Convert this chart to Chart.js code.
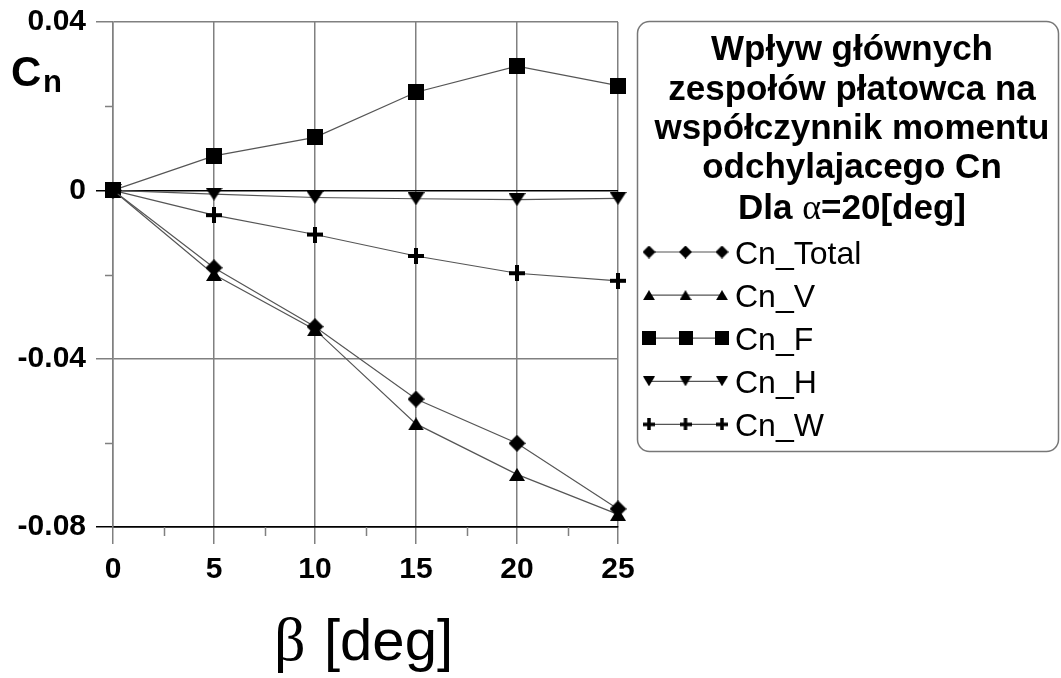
<!DOCTYPE html>
<html lang="pl">
<head>
<meta charset="UTF-8">
<title>Cn(β)</title>
<script src="https://cdn.jsdelivr.net/npm/chart.js"></script>
<style>
  html, body { margin: 0; padding: 0; background: #fff; }
  canvas { display: block; }
</style>
</head>
<body>
<canvas id="cnChart" width="1061" height="678"></canvas>
<script>
// 横すべり角 β [deg]
const beta = [0, 5, 10, 15, 20, 25];
// 各部分の偏揺れモーメント係数 Cn
const cnTotal = [0, -0.0184, -0.0324, -0.0496, -0.0601, -0.0757];
const cnV = [0, -0.0200, -0.0331, -0.0555, -0.0675, -0.0770];
const cnF = [0, 0.0082, 0.0126, 0.0233, 0.0295, 0.0249];
const cnH = [0, -0.0009, -0.0017, -0.0020, -0.0022, -0.0019];
const cnW = [0, -0.0059, -0.0105, -0.0156, -0.0197, -0.0215];

const seriesLabels = ["Cn_Total", "Cn_V", "Cn_F", "Cn_H", "Cn_W"];

// 目盛り
const xTicks = [0, 5, 10, 15, 20, 25];
const xMinor = [2.5, 7.5, 12.5, 17.5, 22.5];
const yTicks = [-0.08, -0.04, 0, 0.04];
const yMinor = [-0.06, -0.02, 0.02];

// 凡例タイトル
const legendTitle = ["Wpływ głównych", "zespołów płatowca na", "współczynnik momentu", "odchylajacego Cn"];

const SANS = "'Liberation Sans', Arial, sans-serif";
const SERIF = "'Liberation Serif', 'Times New Roman', serif";
const gridGray = "#808080";
const lineGray = "#555";

// マーカー画像を作る
function makeMarker(shape, w, h, t) {
  const c = document.createElement("canvas");
  c.width = w;
  c.height = h;
  const ctx = c.getContext("2d");
  ctx.fillStyle = "#000";
  ctx.beginPath();
  if (shape === "diamond") {
    ctx.moveTo(w / 2, 0); ctx.lineTo(w, h / 2); ctx.lineTo(w / 2, h); ctx.lineTo(0, h / 2);
  } else if (shape === "up") {
    ctx.moveTo(w / 2, 0); ctx.lineTo(w, h); ctx.lineTo(0, h);
  } else if (shape === "down") {
    ctx.moveTo(0, 0); ctx.lineTo(w, 0); ctx.lineTo(w / 2, h);
  } else if (shape === "square") {
    ctx.rect(0, 0, w, h);
  } else if (shape === "plus") {
    ctx.rect((w - t) / 2, 0, t, h);
    ctx.rect(0, (h - t) / 2, w, t);
  }
  ctx.closePath();
  ctx.fill();
  return c;
}

// グラフ用と凡例用
const markers = [
  makeMarker("diamond", 17, 17),
  makeMarker("up", 16, 13),
  makeMarker("square", 16, 16),
  makeMarker("down", 17, 13),
  makeMarker("plus", 16, 16, 4)
];
const legendMarkers = [
  makeMarker("diamond", 13, 13),
  makeMarker("up", 12, 10),
  makeMarker("square", 14, 14),
  makeMarker("down", 12, 10),
  makeMarker("plus", 12, 12, 3.5)
];

const seriesData = [cnTotal, cnV, cnF, cnH, cnW];

const datasets = seriesData.map((values, i) => ({
  label: seriesLabels[i],
  data: beta.map((b, j) => ({ x: b, y: values[j] })),
  borderColor: lineGray,
  borderWidth: 1.2,
  pointStyle: markers[i],
  pointRadius: 8,
  clip: false,
  tension: 0
}));

// 補助目盛り
const minorTicks = {
  id: "minorTicks",
  beforeDatasetsDraw(chart) {
    const { ctx, scales: { x, y } } = chart;
    ctx.save();
    ctx.strokeStyle = gridGray;
    ctx.lineWidth = 1.5;
    ctx.beginPath();
    xMinor.forEach(v => {
      const px = Math.round(x.getPixelForValue(v)) + 0.5;
      ctx.moveTo(px, y.bottom);
      ctx.lineTo(px, y.bottom + 9);
    });
    yMinor.forEach(v => {
      const py = Math.round(y.getPixelForValue(v)) + 0.5;
      ctx.moveTo(x.left - 8, py);
      ctx.lineTo(x.left, py);
    });
    ctx.stroke();
    ctx.restore();
  }
};

// 軸タイトルと凡例
const labelsAndLegend = {
  id: "labelsAndLegend",
  afterDraw(chart) {
    const ctx = chart.ctx;
    ctx.save();
    ctx.fillStyle = "#000";
    ctx.textBaseline = "alphabetic";

    // 縦軸 Cn
    ctx.textAlign = "left";
    ctx.font = `bold 42px ${SANS}`;
    ctx.fillText("C", 11, 86);
    ctx.font = `bold 31px ${SANS}`;
    ctx.fillText("n", 43, 92);

    // 横軸 β [deg]
    ctx.font = `62px ${SERIF}`;
    ctx.fillText("β", 274, 660);
    ctx.font = `58px ${SANS}`;
    ctx.fillText("[deg]", 324, 660);

    // 凡例の枠
    ctx.strokeStyle = "#777";
    ctx.lineWidth = 1.5;
    ctx.beginPath();
    ctx.roundRect(637.5, 21.5, 421, 430, 12);
    ctx.stroke();

    // 凡例タイトル
    const cx = 852;
    const baselines = [60, 100, 139, 178, 219];
    ctx.textAlign = "center";
    ctx.font = `bold 35px ${SANS}`;
    legendTitle.forEach((line, i) => ctx.fillText(line, cx, baselines[i]));

    // 最後の行は α だけセリフ体
    const parts = [
      { text: "Dla ", font: `bold 35px ${SANS}` },
      { text: "α", font: `36px ${SERIF}` },
      { text: "=20[deg]", font: `bold 35px ${SANS}` }
    ];
    let total = 0;
    parts.forEach(p => { ctx.font = p.font; p.w = ctx.measureText(p.text).width; total += p.w; });
    let px = cx - total / 2;
    ctx.textAlign = "left";
    parts.forEach(p => { ctx.font = p.font; ctx.fillText(p.text, px, baselines[4]); px += p.w; });

    // 凡例の項目
    const xs = [649, 685.5, 722];
    seriesLabels.forEach((label, i) => {
      const ry = 252 + i * 43.1;
      ctx.strokeStyle = lineGray;
      ctx.lineWidth = 1.2;
      ctx.beginPath();
      ctx.moveTo(xs[0], ry);
      ctx.lineTo(xs[2], ry);
      ctx.stroke();
      const m = legendMarkers[i];
      xs.forEach(mx => ctx.drawImage(m, mx - m.width / 2, ry - m.height / 2));
      ctx.font = `32px ${SANS}`;
      ctx.fillText(label, 735, ry + 11.5);
    });
    ctx.restore();
  }
};

Chart.defaults.color = "#000";

new Chart(document.getElementById("cnChart"), {
  type: "line",
  data: { datasets },
  options: {
    responsive: false,
    animation: false,
    devicePixelRatio: 1,
    layout: { padding: { left: 0, top: 22, right: 443, bottom: 0 } },
    plugins: {
      legend: { display: false },
      tooltip: { enabled: false }
    },
    scales: {
      x: {
        type: "linear",
        min: 0,
        max: 25,
        afterBuildTicks: axis => { axis.ticks = xTicks.map(v => ({ value: v })); },
        afterFit: scale => { scale.height = 151; },
        grid: { color: gridGray, lineWidth: 1.5, tickLength: 17 },
        border: { color: "#000", width: 1.5 },
        ticks: {
          font: { family: SANS, size: 30, weight: "bold" },
          color: "#000",
          padding: 8,
          maxRotation: 0
        }
      },
      y: {
        type: "linear",
        min: -0.08,
        max: 0.04,
        afterBuildTicks: axis => { axis.ticks = yTicks.map(v => ({ value: v })); },
        // ラベルのはみ出し分で上端がずれないようにする
        afterFit: scale => { scale.width = 113; scale.paddingTop = 0; scale.paddingBottom = 0; },
        grid: {
          color: c => (c.tick && (c.tick.value === 0 || c.tick.value === -0.08)) ? "#000" : gridGray,
          lineWidth: 1.5,
          tickLength: 17
        },
        border: { color: gridGray, width: 1.5 },
        ticks: {
          font: { family: SANS, size: 30, weight: "bold" },
          color: "#000",
          padding: 10,
          callback: v => (Math.abs(v) < 1e-9 ? "0" : v.toFixed(2))
        }
      }
    }
  },
  plugins: [minorTicks, labelsAndLegend]
});
</script>
</body>
</html>
